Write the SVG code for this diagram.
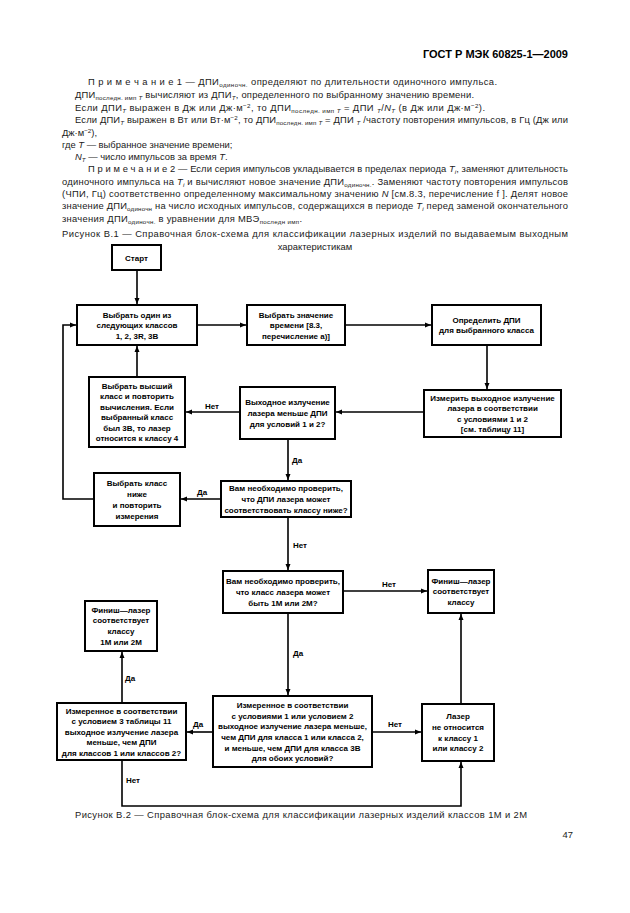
<svg xmlns="http://www.w3.org/2000/svg" width="630" height="913" viewBox="0 0 630 913">
<style>
.bg{fill:#fff}
.t{font-family:"Liberation Sans",Arial,sans-serif;font-size:9.4px;fill:#1a1a1a}
.h{font-family:"Liberation Sans",Arial,sans-serif;font-size:11px;font-weight:bold;fill:#000}
.sb{font-size:6.2px}
.i{font-style:italic}
.box{fill:#fff;stroke:#000;stroke-width:2}
.bt{font-family:"Liberation Sans",Arial,sans-serif;font-size:8px;font-weight:bold;fill:#000;text-anchor:middle}
.lb{font-family:"Liberation Sans",Arial,sans-serif;font-size:8px;font-weight:bold;fill:#000}
.c{fill:none;stroke:#000;stroke-width:1.6;marker-end:url(#ah)}
</style>
<defs>
<marker id="ah" markerUnits="userSpaceOnUse" markerWidth="7" markerHeight="6" refX="6" refY="3" orient="auto">
<path d="M0,0.5 L6,3 L0,5.5 z" fill="#000"/>
</marker>
</defs>
<rect class="bg" x="0" y="0" width="630" height="913"/>
<g id="page-text">
<text class="h" x="568" y="58" text-anchor="end">ГОСТ Р МЭК 60825-1—2009</text>
<text class="t" x="88" y="85" textLength="409" lengthAdjust="spacing">П р и м е ч а н и е 1 — ДПИ<tspan class="sb" dy="2">одиночн.</tspan><tspan dy="-2"> определяют по длительности одиночного импульса.</tspan></text>
<text class="t" x="75" y="98" textLength="399" lengthAdjust="spacing">ДПИ<tspan class="sb" dy="2">последн. имп <tspan class="i">T</tspan></tspan><tspan dy="-2"> вычисляют из ДПИ</tspan><tspan class="sb i" dy="2">T</tspan><tspan dy="-2">,  определенного по выбранному значению времени.</tspan></text>
<text class="t" x="75" y="111" textLength="410" lengthAdjust="spacing">Если ДПИ<tspan class="sb i" dy="2">T</tspan><tspan dy="-2"> выражен в Дж или Дж·м</tspan><tspan class="sb" dy="-3">−2</tspan><tspan dy="3">, то ДПИ</tspan><tspan class="sb" dy="2">последн. имп <tspan class="i">T</tspan></tspan><tspan dy="-2"> = ДПИ </tspan><tspan class="sb i" dy="2">T</tspan><tspan dy="-2">/</tspan><tspan class="i">N</tspan><tspan class="sb i" dy="2">T</tspan><tspan dy="-2"> (в Дж или Дж·м</tspan><tspan class="sb" dy="-3">−2</tspan><tspan dy="3">).</tspan></text>
<text class="t" x="75" y="123" textLength="493" lengthAdjust="spacing">Если ДПИ<tspan class="sb i" dy="2">T</tspan><tspan dy="-2"> выражен в Вт или Вт·м</tspan><tspan class="sb" dy="-3">−2</tspan><tspan dy="3">, то ДПИ</tspan><tspan class="sb" dy="2">последн. имп <tspan class="i">T</tspan></tspan><tspan dy="-2"> = ДПИ </tspan><tspan class="sb i" dy="2">T</tspan><tspan dy="-2"> /частоту повторения импульсов, в Гц (Дж или</tspan></text>
<text class="t" x="62" y="136">Дж·м<tspan class="sb" dy="-3">−2</tspan><tspan dy="3">),</tspan></text>
<text class="t" x="62" y="148">где <tspan class="i">T</tspan> — выбранное значение времени;</text>
<text class="t" x="75" y="160"><tspan class="i">N</tspan><tspan class="sb i" dy="2">T</tspan><tspan dy="-2"> — число импульсов за время </tspan><tspan class="i">T</tspan>.</text>
<text class="t" x="88" y="172" textLength="480" lengthAdjust="spacing">П р и м е ч а н и е 2 — Если серия импульсов укладывается в пределах периода <tspan class="i">T</tspan><tspan class="sb i" dy="2">i</tspan><tspan dy="-2">, заменяют длительность</tspan></text>
<text class="t" x="62" y="185" textLength="506" lengthAdjust="spacing">одиночного импульса на <tspan class="i">T</tspan><tspan class="sb i" dy="2">i</tspan><tspan dy="-2"> и вычисляют новое значение ДПИ</tspan><tspan class="sb" dy="2">одиночн.</tspan><tspan dy="-2">.  Заменяют частоту повторения импульсов</tspan></text>
<text class="t" x="62" y="197" textLength="506" lengthAdjust="spacing">(ЧПИ, Гц) соответственно определенному максимальному значению <tspan class="i">N</tspan> [см.8.3, перечисление f ]. Делят новое</text>
<text class="t" x="62" y="209" textLength="506" lengthAdjust="spacing">значение ДПИ<tspan class="sb" dy="2">одиночн</tspan><tspan dy="-2"> на число исходных импульсов, содержащихся в периоде </tspan><tspan class="i">T</tspan><tspan class="sb i" dy="2">i</tspan><tspan dy="-2"> перед заменой окончательного</tspan></text>
<text class="t" x="62" y="222" textLength="240" lengthAdjust="spacing">значения ДПИ<tspan class="sb" dy="2">одиночн.</tspan><tspan dy="-2"> в уравнении для МВЭ</tspan><tspan class="sb" dy="2">последн имп</tspan><tspan dy="-2">.</tspan></text>
<text class="t" x="62" y="237" textLength="506" lengthAdjust="spacing">Рисунок В.1 — Справочная блок-схема для классификации лазерных изделий по выдаваемым выходным</text>
<text class="t" x="315" y="250" text-anchor="middle">характеристикам</text>
<text class="t" x="75" y="818" textLength="452" lengthAdjust="spacing">Рисунок В.2 — Справочная блок-схема для классификации лазерных изделий классов 1М и 2М</text>
<text class="t" x="573" y="838" text-anchor="end">47</text>
</g>
<g id="connectors">
<path class="c" d="M137,270 V304"/>
<path class="c" d="M197,325 H246"/>
<path class="c" d="M345,325 H431"/>
<path class="c" d="M487,345 V389"/>
<path class="c" d="M424,412 H336"/>
<path class="c" d="M240,412 H186"/>
<path class="c" d="M137,377 V346"/>
<path class="c" d="M288,439 V480"/>
<path class="c" d="M221,499 H181"/>
<path class="c" d="M94,499 H63 V325 H76"/>
<path class="c" d="M288,517 V570"/>
<path class="c" d="M343,591 H427"/>
<path class="c" d="M288,613 V695"/>
<path class="c" d="M213,732 H187"/>
<path class="c" d="M122,703 V652"/>
<path class="c" d="M372,732 H421"/>
<path class="c" d="M461,704 V614"/>
<path class="c" d="M122,760 V806 H461 V762"/>
<text class="lb" x="205" y="409">Нет</text>
<text class="lb" x="292" y="463">Да</text>
<text class="lb" x="197" y="495">Да</text>
<text class="lb" x="293" y="548">Нет</text>
<text class="lb" x="382" y="587">Нет</text>
<text class="lb" x="293" y="656">Да</text>
<text class="lb" x="193" y="727">Да</text>
<text class="lb" x="125" y="681">Да</text>
<text class="lb" x="388" y="727">Нет</text>
<text class="lb" x="126" y="783">Нет</text>
</g>
<g id="start">
<rect class="box" x="112" y="245" width="49" height="25"/>
<text class="bt" x="136.5" y="260.5">Старт</text>
</g>
<g id="select-class">
<rect class="box" x="77" y="305" width="120" height="40"/>
<text class="bt" x="137" y="317.5">Выбрать один из</text>
<text class="bt" x="137" y="328.2">следующих классов</text>
<text class="bt" x="137" y="338.9">1, 2, 3R, 3B</text>
</g>
<g id="select-time">
<rect class="box" x="247" y="305" width="98" height="40"/>
<text class="bt" x="296" y="317.5">Выбрать значение</text>
<text class="bt" x="296" y="328.2">времени [8.3,</text>
<text class="bt" x="296" y="338.9">перечисление a)]</text>
</g>
<g id="determine-ael">
<rect class="box" x="432" y="305" width="109" height="40"/>
<text class="bt" x="486.5" y="322.5">Определить ДПИ</text>
<text class="bt" x="486.5" y="333.2">для выбранного класса</text>
</g>
<g id="measure">
<rect class="box" x="424" y="390" width="137" height="47"/>
<text class="bt" x="492.5" y="400.5">Измерить выходное излучение</text>
<text class="bt" x="492.5" y="411.1">лазера в соответствии</text>
<text class="bt" x="492.5" y="421.7">с условиями 1 и 2</text>
<text class="bt" x="492.5" y="432.3">[см. таблицу 11]</text>
</g>
<g id="output-less">
<rect class="box" x="240" y="387" width="95" height="52"/>
<text class="bt" x="287.5" y="405.1">Выходное излучение</text>
<text class="bt" x="287.5" y="415.8">лазера меньше ДПИ</text>
<text class="bt" x="287.5" y="426.5">для условий 1 и 2?</text>
</g>
<g id="select-higher">
<rect class="box" x="89" y="377" width="96" height="70"/>
<text class="bt" x="137" y="388.5">Выбрать высший</text>
<text class="bt" x="137" y="399">класс и повторить</text>
<text class="bt" x="137" y="409.5">вычисления. Если</text>
<text class="bt" x="137" y="420">выбранный класс</text>
<text class="bt" x="137" y="430.5">был 3B, то лазер</text>
<text class="bt" x="137" y="441">относится к классу 4</text>
</g>
<g id="check-lower">
<rect class="box" x="221" y="481" width="130" height="36"/>
<text class="bt" x="286" y="491.3">Вам необходимо проверить,</text>
<text class="bt" x="286" y="501.9">что ДПИ лазера может</text>
<text class="bt" x="286" y="512.5">соответствовать классу ниже?</text>
</g>
<g id="select-lower">
<rect class="box" x="94" y="473" width="86" height="53"/>
<text class="bt" x="137" y="486">Выбрать класс</text>
<text class="bt" x="137" y="497">ниже</text>
<text class="bt" x="137" y="508">и повторить</text>
<text class="bt" x="137" y="519">измерения</text>
</g>
<g id="check-1m-2m">
<rect class="box" x="223" y="571" width="120" height="42"/>
<text class="bt" x="283" y="584.1">Вам необходимо проверить,</text>
<text class="bt" x="283" y="594.8">что класс лазера может</text>
<text class="bt" x="283" y="605.5">быть 1M или 2M?</text>
</g>
<g id="finish-class">
<rect class="box" x="428" y="570" width="66" height="43"/>
<text class="bt" x="461" y="583.6">Финиш—лазер</text>
<text class="bt" x="461" y="594.3">соответствует</text>
<text class="bt" x="461" y="605">классу</text>
</g>
<g id="finish-1m-2m">
<rect class="box" x="85" y="601" width="72" height="50"/>
<text class="bt" x="121" y="612.7">Финиш—лазер</text>
<text class="bt" x="121" y="623.4">соответствует</text>
<text class="bt" x="121" y="634.1">классу</text>
<text class="bt" x="121" y="644.8">1M или 2M</text>
</g>
<g id="measure-cond3">
<rect class="box" x="57" y="703" width="129" height="57"/>
<text class="bt" x="121.5" y="713.5">Измеренное в соответствии</text>
<text class="bt" x="121.5" y="724">с условием 3 таблицы 11</text>
<text class="bt" x="121.5" y="734.5">выходное излучение лазера</text>
<text class="bt" x="121.5" y="745">меньше, чем ДПИ</text>
<text class="bt" x="121.5" y="755.5">для классов 1 или классов 2?</text>
</g>
<g id="measure-cond12">
<rect class="box" x="213" y="696" width="159" height="71"/>
<text class="bt" x="292.5" y="707.8">Измеренное в соответствии</text>
<text class="bt" x="292.5" y="718.5">с условиями 1 или условием 2</text>
<text class="bt" x="292.5" y="729.2">выходное излучение лазера меньше,</text>
<text class="bt" x="292.5" y="739.9">чем ДПИ для класса 1 или класса 2,</text>
<text class="bt" x="292.5" y="750.6">и меньше, чем ДПИ для класса 3B</text>
<text class="bt" x="292.5" y="761.3">для обоих условий?</text>
</g>
<g id="not-class-1-2">
<rect class="box" x="422" y="704" width="72" height="57"/>
<text class="bt" x="458" y="719.2">Лазер</text>
<text class="bt" x="458" y="729.9">не относится</text>
<text class="bt" x="458" y="740.6">к классу 1</text>
<text class="bt" x="458" y="751.3">или классу 2</text>
</g>
</svg>
